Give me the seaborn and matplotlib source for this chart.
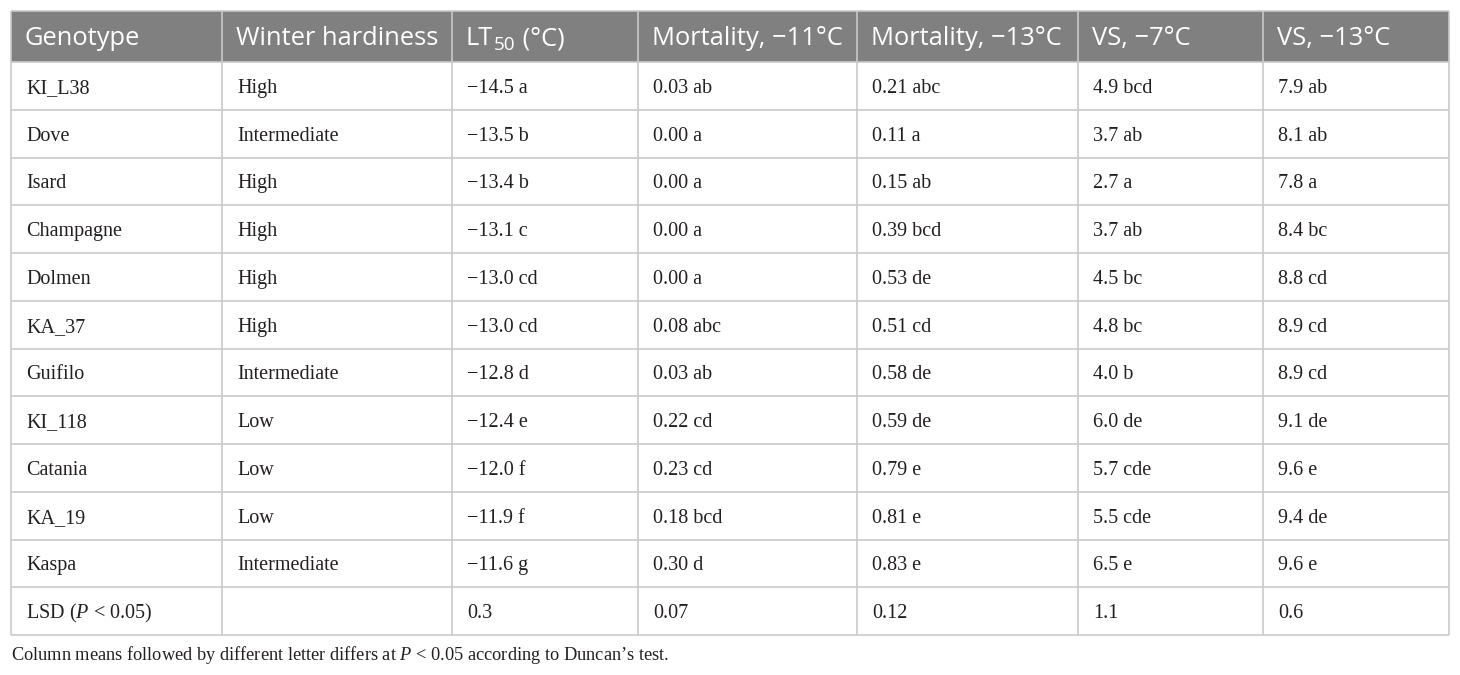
import pandas as pd
import seaborn as sns
import matplotlib.pyplot as plt

# table contents
genotypes = ["KI_L38", "Dove", "Isard", "Champagne", "Dolmen", "KA_37",
             "Guifilo", "KI_118", "Catania", "KA_19", "Kaspa"]
hardiness = ["High", "Intermediate", "High", "High", "High", "High",
             "Intermediate", "Low", "Low", "Low", "Intermediate"]
lt50 = [-14.5, -13.5, -13.4, -13.1, -13.0, -13.0, -12.8, -12.4, -12.0, -11.9, -11.6]
lt50_grp = ["a", "b", "b", "c", "cd", "cd", "d", "e", "f", "f", "g"]
mort11 = [0.03, 0.00, 0.00, 0.00, 0.00, 0.08, 0.03, 0.22, 0.23, 0.18, 0.30]
mort11_grp = ["ab", "a", "a", "a", "a", "abc", "ab", "cd", "cd", "bcd", "d"]
mort13 = [0.21, 0.11, 0.15, 0.39, 0.53, 0.51, 0.58, 0.59, 0.79, 0.81, 0.83]
mort13_grp = ["abc", "a", "ab", "bcd", "de", "cd", "de", "de", "e", "e", "e"]
vs7 = [4.9, 3.7, 2.7, 3.7, 4.5, 4.8, 4.0, 6.0, 5.7, 5.5, 6.5]
vs7_grp = ["bcd", "ab", "a", "ab", "bc", "bc", "b", "de", "cde", "cde", "e"]
vs13 = [7.9, 8.1, 7.8, 8.4, 8.8, 8.9, 8.9, 9.1, 9.6, 9.4, 9.6]
vs13_grp = ["ab", "ab", "a", "bc", "cd", "cd", "cd", "de", "e", "de", "e"]
lsd_values = [0.3, 0.07, 0.12, 1.1, 0.6]

# header pieces: (main text, subscript, rest)
headers = [("Genotype", "", ""), ("Winter hardiness", "", ""), ("LT", "50", " (°C)"),
           ("Mortality, −11°C", "", ""), ("Mortality, −13°C", "", ""),
           ("VS, −7°C", "", ""), ("VS, −13°C", "", "")]
caption = ("Column means followed by different letter differs at $\\mathit{P}$ < 0.05 "
           "according to Duncan’s test.")


def fmt(v, nd):
    s = f"{v:.{nd}f}"
    return s.replace("-", "−")


df = pd.DataFrame({
    "Genotype": genotypes,
    "Winter hardiness": hardiness,
    "LT50": [f"{fmt(v, 1)} {g}" for v, g in zip(lt50, lt50_grp)],
    "M11": [f"{fmt(v, 2)} {g}" for v, g in zip(mort11, mort11_grp)],
    "M13": [f"{fmt(v, 2)} {g}" for v, g in zip(mort13, mort13_grp)],
    "VS7": [f"{fmt(v, 1)} {g}" for v, g in zip(vs7, vs7_grp)],
    "VS13": [f"{fmt(v, 1)} {g}" for v, g in zip(vs13, vs13_grp)],
})
lsd_row = ["LSD ($\\mathit{P}$ < 0.05)", ""] + [fmt(lsd_values[0], 1), fmt(lsd_values[1], 2),
                                              fmt(lsd_values[2], 2), fmt(lsd_values[3], 1),
                                              fmt(lsd_values[4], 1)]
df.loc[len(df)] = lsd_row

sns.set_theme(style="white")
plt.rcParams["mathtext.fontset"] = "custom"
plt.rcParams["mathtext.it"] = "Liberation Serif:italic"
plt.rcParams["mathtext.rm"] = "Liberation Serif"
plt.rcParams["mathtext.default"] = "regular"

fig = plt.figure(figsize=(14.6, 6.75), dpi=100)
ax = fig.add_axes([0, 0, 1, 1])
ax.set_xlim(0, 1460)
ax.set_ylim(675, 0)
ax.axis("off")
renderer = fig.canvas.get_renderer()

# layout (pixels)
col_edges = [11, 222, 452, 638, 857, 1078, 1263, 1449]
top, head_bottom, row_h = 11, 62, 47.75
n_rows = len(df)
bottom = head_bottom + row_h * n_rows
line_col = "#c9c9c9"
head_col = "#808080"
text_col = "#231f20"
sans = ["Open Sans", "DejaVu Sans"]
serif = ["Liberation Serif", "DejaVu Serif"]

ax.fill_between([col_edges[0], col_edges[-1]], top, head_bottom, color=head_col, lw=0)

for i in range(1, n_rows):
    ax.hlines(head_bottom + row_h * i, col_edges[0], col_edges[-1], color=line_col, lw=1.2)
ax.hlines([top, head_bottom, bottom], col_edges[0], col_edges[-1], color=line_col, lw=1.2)
ax.vlines(col_edges, top, bottom, color=line_col, lw=1.2)

pad = 15
head_fs = 18.4
head_base = top + 34
for j, (main, sub, rest) in enumerate(headers):
    x = col_edges[j] + pad - 1
    t = ax.text(x, head_base, main, color="white", fontsize=head_fs, family=sans,
                ha="left", va="baseline")
    if sub:
        x = t.get_window_extent(renderer).x1 + 1
        t = ax.text(x, head_base + 5, sub, color="white", fontsize=head_fs * 0.74,
                    family=sans, ha="left", va="baseline")
        x = t.get_window_extent(renderer).x1
        ax.text(x, head_base, rest, color="white", fontsize=head_fs, family=sans,
                ha="left", va="baseline")

for i in range(n_rows):
    yb = head_bottom + row_h * (i + 0.5) + 7
    for j in range(len(headers)):
        val = df.iloc[i, j]
        if val:
            ax.text(col_edges[j] + pad, yb, val, color=text_col, fontsize=14.5,
                    family=serif, ha="left", va="baseline")

ax.text(col_edges[0], bottom + 25, caption, color=text_col, fontsize=13.2,
        family=serif, ha="left", va="baseline")

fig.savefig("out.png", dpi=100)
